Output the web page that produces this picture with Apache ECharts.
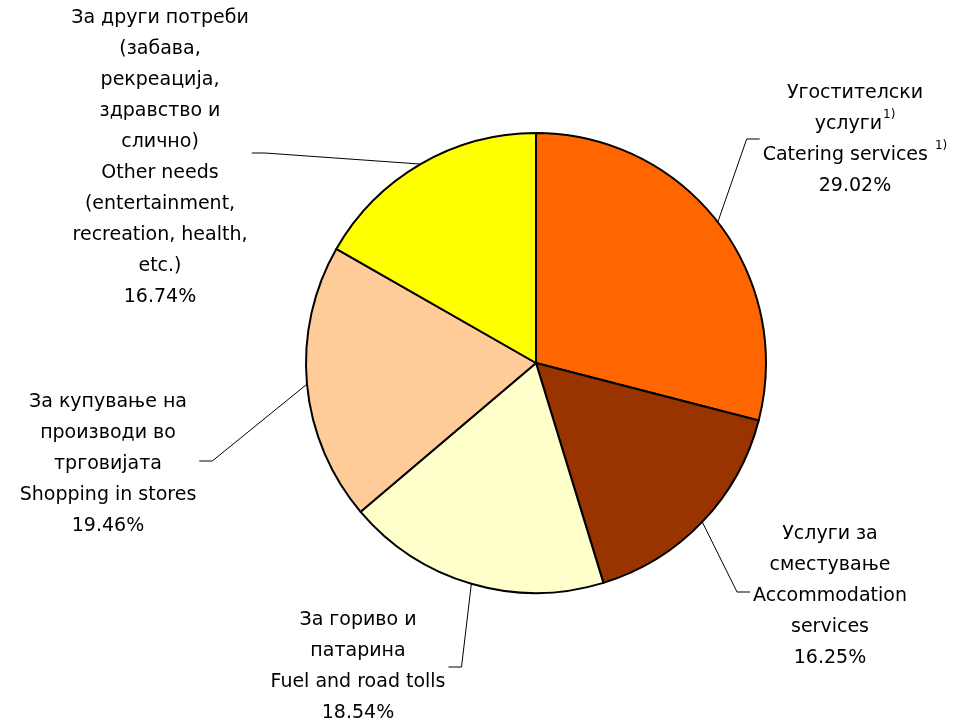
<!DOCTYPE html>
<html>
<head>
<meta charset="utf-8">
<script src="https://cdn.jsdelivr.net/npm/echarts@6/dist/echarts.min.js"></script>
<style>
  html, body { margin: 0; padding: 0; background: #fff; }
  #main { width: 953px; height: 724px; }
</style>
</head>
<body>
<div id="main"></div>
<script>
// структура на трошоците (%)
var labels = [
	'Угостителски\nуслуги{sup|1)}\nCatering services {sup|1)}',
	'Услуги за\nсместување\nAccommodation\nservices',
	'За гориво и\nпатарина\nFuel and road tolls',
	'За купување на\nпроизводи во\nтрговијата\nShopping in stores',
	'За други потреби\n(забава,\nрекреација,\nздравство и\nслично)\nOther needs\n(entertainment,\nrecreation, health,\netc.)'
];
var values = [29.02, 16.25, 18.54, 19.46, 16.74];
var colors = ['#FF6600', '#993300', '#FFFFCC', '#FFCC99', '#FFFF00'];

// позиции на натписите: центар x, центар y, y на линијата, страна
var labelPos = [
	[855, 140, 139, 'left'],
	[830, 596, 592, 'left'],
	[358, 667, 667, 'right'],
	[108, 464, 461, 'right'],
	[160, 158, 153, 'right']
];

var chart = echarts.init(document.getElementById('main'));

var pieData = [];
for (var i = 0; i < values.length; i++) {
	pieData.push({
		name: labels[i],
		value: values[i],
		itemStyle: { color: colors[i] }
	});
}

var option = {
	animation: false,
	series: [
		{
			type: 'pie',
			center: [536, 363],
			radius: 230,
			startAngle: 90,
			clockwise: true,
			avoidLabelOverlap: false,
			data: pieData,
			itemStyle: {
				borderColor: '#000',
				borderWidth: 2
			},
			label: {
				show: true,
				position: 'outer',
				color: '#000',
				fontFamily: 'DejaVu Sans',
				fontSize: 19,
				lineHeight: 31,
				align: 'center',
				formatter: function (p) {
					return p.name + '\n' + p.value.toFixed(2) + '%';
				},
				rich: {
					sup: {
						fontFamily: 'DejaVu Sans',
						fontSize: 12,
						lineHeight: 31,
						verticalAlign: 'top',
						padding: [0, 0, 10, 1],
						color: '#000'
					}
				}
			},
			labelLine: {
				show: true,
				smooth: false,
				lineStyle: { color: '#000', width: 1 }
			},
			labelLayout: function (params) {
				var lp = labelPos[params.dataIndex];
				var half = params.labelRect.width / 2;
				var anchor = params.labelLinePoints ? params.labelLinePoints[0] : [lp[0], lp[1]];
				var endX, elbowX;
				if (lp[3] === 'left') {
					endX = lp[0] - half - 3;
					elbowX = endX - 13;
				} else {
					endX = lp[0] + half + 3;
					elbowX = endX + 13;
				}
				return {
					x: lp[0],
					y: lp[1],
					align: 'center',
					verticalAlign: 'middle',
					labelLinePoints: [anchor, [elbowX, lp[2]], [endX, lp[2]]]
				};
			}
		}
	]
};

chart.setOption(option);
</script>
</body>
</html>
